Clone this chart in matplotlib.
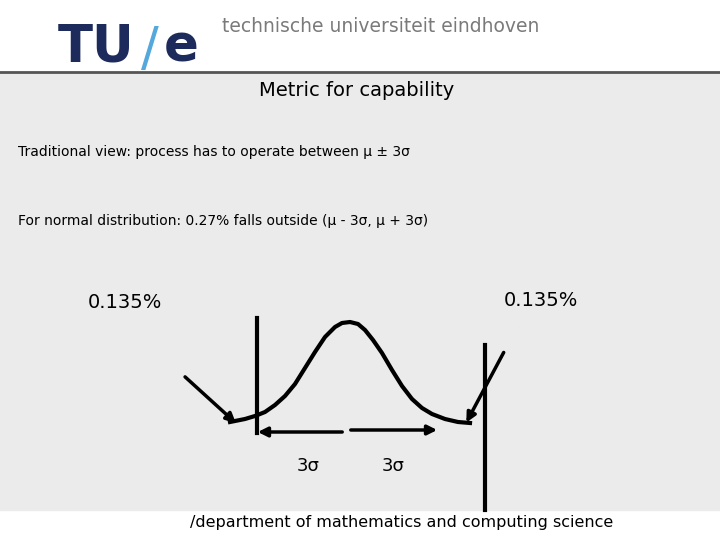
import matplotlib
matplotlib.use("Agg")
import matplotlib.pyplot as plt
from matplotlib.patches import Rectangle, FancyArrowPatch

title = "Metric for capability"
line1 = "Traditional view: process has to operate between \u03bc \u00b1 3\u03c3"
line2 = "For normal distribution: 0.27% falls outside (\u03bc - 3\u03c3, \u03bc + 3\u03c3)"
tail_labels = ["0.135%", "0.135%"]
sigma_labels = ["3\u03c3", "3\u03c3"]
footer = "/department of mathematics and computing science"
# bell curve points (pixel coords)
curve_x = [230, 245, 255, 265, 275, 285, 295, 305, 315, 325, 335, 342, 350, 358, 365, 373, 382, 392, 402, 412, 422, 432, 445, 458, 470]
curve_y = [422, 419, 416, 412, 405, 396, 384, 368, 352, 337, 327, 323, 322, 324, 330, 340, 353, 370, 386, 399, 408, 414, 419, 422, 423]

fig = plt.figure(figsize=(7.2, 5.4), dpi=100)
ax = fig.add_axes([0, 0, 1, 1])
ax.set_xlim(0, 720); ax.set_ylim(540, 0); ax.axis("off")
ax.add_patch(Rectangle((0, 72), 720, 438, color="#ebebeb", zorder=0))
ax.plot([0, 720], [72, 72], color="#555555", lw=2)

ax.text(58, 48, "TU", fontsize=37, fontweight="bold", color="#1c2a5c", va="center", family="DejaVu Sans")
ax.text(150, 50, "/", fontsize=38, color="#55a8dc", va="center", ha="center", family="DejaVu Sans")
ax.text(164, 48, "e", fontsize=37, fontweight="bold", color="#1c2a5c", va="center", family="DejaVu Sans")
ax.text(222, 27, "technische universiteit eindhoven", fontsize=13.5, color="#7a7a7a", va="center", family="DejaVu Sans")

ax.text(357, 90, title, fontsize=14, ha="center", va="center")
ax.text(18, 152, line1, fontsize=10, va="center")
ax.text(18, 221, line2, fontsize=10, va="center")
ax.text(88, 303, tail_labels[0], fontsize=14, va="center")
ax.text(504, 301, tail_labels[1], fontsize=14, va="center")

ax.plot(curve_x, curve_y, color="black", lw=3, solid_joinstyle="round")
ax.plot([257, 257], [318, 433], color="black", lw=3)
ax.plot([485, 485], [345, 510], color="black", lw=3)
for (x0, y0, x1, y1) in [(183, 375, 238, 425), (505, 350, 465, 425), (345, 432, 255, 432), (348, 430, 440, 430)]:
    ax.add_patch(FancyArrowPatch((x0, y0), (x1, y1), arrowstyle="-|>", mutation_scale=14, color="black", lw=2.5))
ax.text(308, 466, sigma_labels[0], fontsize=13, ha="center", va="center")
ax.text(393, 466, sigma_labels[1], fontsize=13, ha="center", va="center")
ax.text(402, 523, footer, fontsize=11.5, ha="center", va="center")
fig.savefig("out.png", dpi=100)
